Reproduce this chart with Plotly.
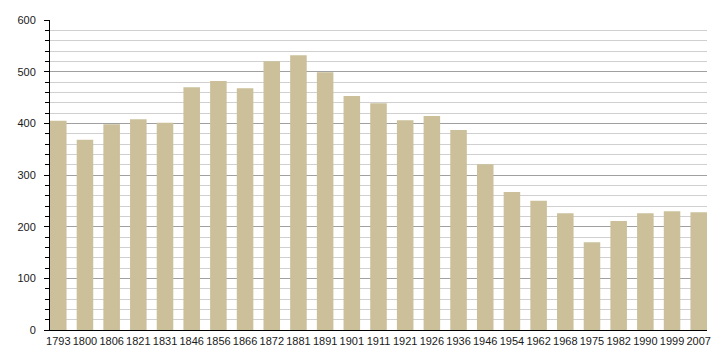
import plotly.graph_objects as go

years = ["1793", "1800", "1806", "1821", "1831", "1846", "1856", "1866", "1872", "1881",
         "1891", "1901", "1911", "1921", "1926", "1936", "1946", "1954", "1962", "1968",
         "1975", "1982", "1990", "1999", "2007"]
population = [405, 368, 398, 408, 401, 470, 482, 468, 520, 532,
              499, 453, 439, 406, 414, 387, 321, 267, 250, 226,
              170, 211, 226, 230, 228]

idx = list(range(len(years)))

fig = go.Figure()
fig.add_trace(go.Bar(
    x=idx, y=population, width=0.62,
    marker=dict(color="#cbc09a", line=dict(width=0)),
    hoverinfo="x+y",
))

fig.update_layout(
    width=720, height=360,
    margin=dict(l=50, r=9, t=20, b=30),
    paper_bgcolor="white", plot_bgcolor="white",
    showlegend=False,
    font=dict(family="Liberation Sans, Arial, sans-serif", size=11, color="#1a1a1a"),
    xaxis=dict(
        range=[-0.31, 24.31],
        tickmode="array", tickvals=idx, ticktext=years,
        showgrid=False, zeroline=False,
        showline=True, linecolor="black", linewidth=1,
        ticks="", ticklabelstandoff=1,
        fixedrange=True,
    ),
    yaxis=dict(
        range=[0, 600],
        tickmode="linear", tick0=0, dtick=100,
        showgrid=True, gridcolor="#a0a0a0", gridwidth=1,
        zeroline=False,
        showline=True, linecolor="black", linewidth=1,
        ticks="outside", ticklen=5, tickcolor="black",
        ticklabelstandoff=6,
        minor=dict(dtick=20, tick0=0, showgrid=True, gridcolor="#d0d0d0", gridwidth=1,
                   ticks="outside", ticklen=4, tickcolor="black"),
        fixedrange=True,
    ),
)

fig.write_html(
    "out.html",
    config={"displayModeBar": False},
    post_script="document.body.style.margin='0';",
)
